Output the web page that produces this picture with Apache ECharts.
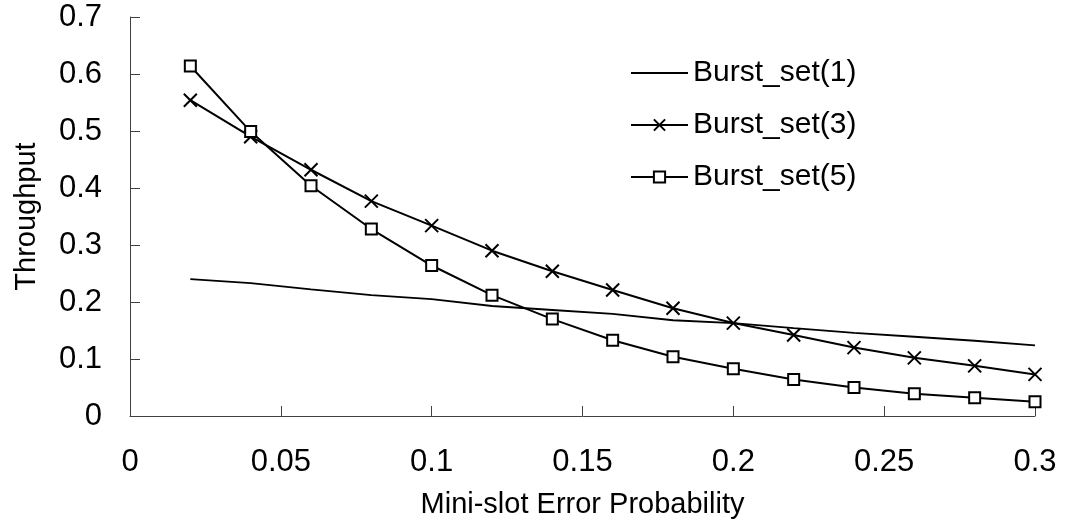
<!DOCTYPE html>
<html>
<head>
<meta charset="utf-8">
<script src="https://cdn.jsdelivr.net/npm/echarts@6/dist/echarts.min.js"></script>
<style>
html,body{margin:0;padding:0;background:#fff;}
#chart{width:1066px;height:531px;}
</style>
</head>
<body>
<div id="chart"></div>
<script>
var xValues = [0.02, 0.04, 0.06, 0.08, 0.10, 0.12, 0.14, 0.16, 0.18, 0.20, 0.22, 0.24, 0.26, 0.28, 0.30];
var seriesNames = ['Burst_set(1)', 'Burst_set(3)', 'Burst_set(5)'];
var burst1 = [0.240, 0.233, 0.222, 0.212, 0.205, 0.193, 0.186, 0.179, 0.168, 0.163, 0.154, 0.146, 0.139, 0.132, 0.124];
var burst3 = [0.554, 0.490, 0.432, 0.377, 0.334, 0.290, 0.254, 0.221, 0.189, 0.163, 0.142, 0.120, 0.102, 0.088, 0.073];
var burst5 = [0.614, 0.499, 0.404, 0.328, 0.264, 0.212, 0.170, 0.133, 0.104, 0.083, 0.064, 0.050, 0.039, 0.032, 0.025];
var xTitle = 'Mini-slot Error Probability';
var yTitle = 'Throughput';

function pairs(ys) { return xValues.map(function (x, i) { return [x, ys[i]]; }); }

var FONT = '"Liberation Sans", Arial, sans-serif';
var chart = echarts.init(document.getElementById('chart'), null, {renderer: 'canvas'});
chart.setOption({
  animation: false,
  backgroundColor: '#fff',
  grid: {left: 130, right: 31, top: 17, bottom: 115, containLabel: false},
  legend: {
    orient: 'vertical',
    left: 630,
    top: 58,
    padding: 0,
    itemWidth: 57,
    itemHeight: 14,
    itemGap: 22,
    data: [
      {name: seriesNames[0], itemStyle: {opacity: 0}},
      {name: seriesNames[1]},
      {name: seriesNames[2]}
    ],
    textStyle: {fontFamily: FONT, fontSize: 30, color: '#000', lineHeight: 30}
  },
  xAxis: {
    type: 'value',
    min: 0, max: 0.3, interval: 0.05,
    name: xTitle,
    nameLocation: 'middle',
    nameGap: 74,
    nameTextStyle: {fontFamily: FONT, fontSize: 29, color: '#000'},
    axisLine: {show: true, onZero: false, lineStyle: {color: '#404040', width: 1}},
    axisTick: {show: true, inside: true, length: 10, lineStyle: {color: '#404040'}},
    axisLabel: {fontFamily: FONT, fontSize: 31, color: '#000', margin: 31},
    splitLine: {show: false}
  },
  yAxis: {
    type: 'value',
    min: 0, max: 0.7, interval: 0.1,
    name: yTitle,
    nameLocation: 'middle',
    nameGap: 89,
    nameTextStyle: {fontFamily: FONT, fontSize: 29, color: '#000'},
    axisLine: {show: true, lineStyle: {color: '#404040', width: 1}},
    axisTick: {show: true, inside: true, length: 10, lineStyle: {color: '#404040'}},
    axisLabel: {fontFamily: FONT, fontSize: 31, color: '#000', margin: 28},
    splitLine: {show: false}
  },
  series: [
    {
      name: seriesNames[0], type: 'line', data: pairs(burst1),
      symbol: 'none', showSymbol: false,
      lineStyle: {color: '#000', width: 1.8},
      itemStyle: {color: '#000'}
    },
    {
      name: seriesNames[1], type: 'line', data: pairs(burst3),
      symbol: 'path://M0,0L10,10M10,0L0,10', symbolSize: 13,
      lineStyle: {color: '#000', width: 2},
      itemStyle: {color: '#000', borderColor: '#000', borderWidth: 2}
    },
    {
      name: seriesNames[2], type: 'line', data: pairs(burst5),
      symbol: 'rect', symbolSize: 11,
      lineStyle: {color: '#000', width: 2},
      itemStyle: {color: '#fff', borderColor: '#000', borderWidth: 2}
    }
  ]
});
</script>
</body>
</html>
